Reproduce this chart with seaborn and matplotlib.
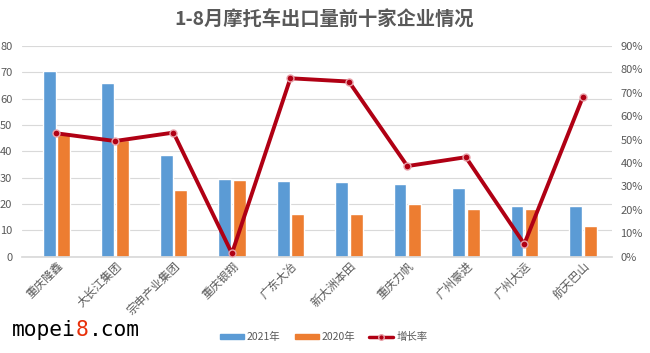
import matplotlib
matplotlib.use("Agg")
import matplotlib.pyplot as plt
from matplotlib.lines import Line2D
from matplotlib.patches import Patch
from matplotlib.ticker import FuncFormatter, MultipleLocator
import seaborn as sns
import pandas as pd

companies = ['重庆隆鑫', '大长江集团', '宗申产业集团', '重庆银翔', '广东大冶',
             '新大洲本田', '重庆力帆', '广州豪进', '广州大运', '航天巴山']
sales_2021 = [70.5, 66.1, 38.5, 29.4, 28.7, 28.5, 27.5, 26.1, 19.4, 19.4]
sales_2020 = [46.5, 44.3, 25.2, 29.1, 16.3, 16.3, 20.0, 18.2, 18.2, 11.6]
growth = [52.7, 49.4, 53.0, 1.4, 76.2, 74.8, 38.7, 42.5, 5.4, 68.1]

sns.set_theme(style="white")
plt.rcParams['font.family'] = ['Noto Sans CJK SC', 'DejaVu Sans']

blue = '#5B9BD5'
orange = '#ED7D31'
red = '#B00014'
grey = '#595959'

df = pd.DataFrame({
    '企业': companies * 2,
    '出口量': sales_2021 + sales_2020,
    '年份': ['2021年'] * 10 + ['2020年'] * 10,
})
gdf = pd.DataFrame({'企业': companies, '增长率': growth})

fig = plt.figure(figsize=(6.5, 3.53), dpi=100)
ax = fig.add_axes([22 / 650, 0.2728, 590 / 650, 0.597])

sns.barplot(data=df, x='企业', y='出口量', hue='年份', palette=[blue, orange],
            width=0.5, gap=0.12, ax=ax, legend=False, saturation=1)
ax.set_ylim(0, 80)
ax.set_xlim(-0.59, 9.5)
ax.yaxis.set_major_locator(MultipleLocator(10))
ax.grid(axis='y', color='#D9D9D9', linewidth=0.8)
ax.set_axisbelow(True)
for s in ['top', 'right', 'left']:
    ax.spines[s].set_visible(False)
ax.spines['bottom'].set_color('#D9D9D9')
ax.set_xlabel('')
ax.set_ylabel('')
ax.tick_params(axis='y', colors=grey, labelsize=8, length=0, pad=7)
ax.tick_params(axis='x', colors=grey, labelsize=8.3, length=0, pad=2)
plt.setp(ax.get_xticklabels(), rotation=45, ha='right', rotation_mode='anchor')

ax2 = ax.twinx()
sns.lineplot(data=gdf, x='企业', y='增长率', ax=ax2, color=red, linewidth=2.8,
             marker='o', markersize=5, markerfacecolor=red,
             markeredgecolor='#E8A0A8', markeredgewidth=1, sort=False)
ax2.set_ylim(0, 90)
ax2.yaxis.set_major_locator(MultipleLocator(10))
ax2.yaxis.set_major_formatter(FuncFormatter(lambda v, p: f'{v:.0f}%'))
ax2.tick_params(axis='y', colors=grey, labelsize=8, length=0, pad=6)
for s in ax2.spines.values():
    s.set_visible(False)
ax2.set_ylabel('')
ax2.set_xlabel('')

fig.text(0.499, 0.943, '1-8月摩托车出口量前十家企业情况', ha='center', va='center',
         fontsize=13.9, fontweight='bold', color=grey)

handles = [Patch(color=blue, label='2021年'), Patch(color=orange, label='2020年'),
           Line2D([0], [0], color=red, linewidth=2.5, marker='o', markersize=4,
                  markeredgecolor='#E8A0A8', label='增长率')]
fig.legend(handles=handles, loc='center', bbox_to_anchor=(0.498, 0.045), ncol=3,
           frameon=False, fontsize=7.5, handlelength=2.3, handleheight=0.5,
           columnspacing=1.35, handletextpad=0.3, labelcolor=grey)

# watermark
cw = 12.8 / 650
x0 = 12 / 650
y0 = 1 - 330 / 353
wm = dict(fontsize=15.3, family='DejaVu Sans Mono', va='center', ha='left')
fig.text(x0, y0, 'mopei', color='black', **wm)
fig.text(x0 + 5 * cw, y0, '8', color='#E8300A', **wm)
fig.text(x0 + 6 * cw, y0, '.com', color='black', **wm)

fig.savefig('out.png', dpi=100)
